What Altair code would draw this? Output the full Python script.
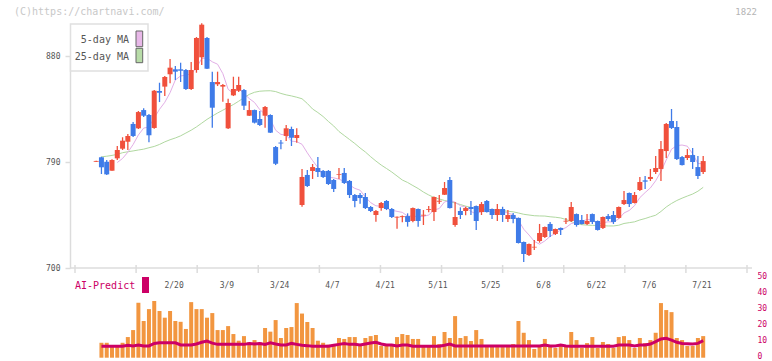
import altair as alt
import numpy as np
import pandas as pd

# Daily candles (open / high / low / close), one entry per trading day
opens = [790.2, 794.0, 790.2, 782.6, 793.1, 801.3, 807.2, 822.3, 818.6, 834.1,
         829.9, 818.9, 850.3, 854.0, 864.5, 868.7, 868.7, 868.1, 852.0, 868.1,
         878.9, 895.3, 857.9, 856.0, 854.0, 818.6, 846.6, 850.5, 851.1, 829.3,
         834.1, 826.5, 829.3, 829.9, 802.7, 806.5, 812.1, 818.0, 810.4, 753.5,
         779.0, 782.4, 784.9, 782.4, 782.4, 774.7, 779.2, 780.7, 773.9, 762.0,
         762.0, 760.3, 751.8, 745.0, 750.9, 756.9, 750.1, 742.8, 743.2, 744.1,
         739.9, 750.1, 744.5, 749.3, 747.5, 756.3, 762.2, 774.7, 736.5, 748.4,
         748.4, 751.8, 752.6, 747.5, 756.9, 750.1, 745.0, 750.1, 741.6, 745.0,
         742.5, 722.1, 711.0, 717.4, 722.9, 726.3, 737.4, 728.9, 734.0, 739.4,
         739.9, 745.8, 740.8, 737.4, 745.8, 739.9, 734.0, 744.1, 745.0, 742.5,
         754.3, 763.7, 755.2, 766.2, 774.4, 775.6, 781.5, 784.1, 799.3, 824.8,
         819.7, 794.2, 793.4, 795.9, 785.7, 781.5]
highs = [791.0, 794.5, 791.7, 792.3, 803.6, 811.0, 813.8, 824.0, 833.3, 835.6,
         830.7, 851.1, 857.3, 863.0, 877.4, 871.5, 874.3, 869.0, 874.9, 896.1,
         907.8, 896.1, 866.7, 866.7, 856.2, 843.7, 862.4, 862.4, 852.0, 841.8,
         834.5, 833.3, 837.5, 830.5, 803.6, 808.7, 821.4, 820.0, 818.6, 784.1,
         783.2, 788.3, 794.2, 783.2, 783.2, 775.6, 784.9, 784.9, 774.7, 762.8,
         763.7, 763.7, 752.6, 749.2, 756.0, 757.7, 750.9, 743.7, 744.6, 746.4,
         751.4, 750.5, 749.2, 752.6, 760.7, 762.0, 773.0, 777.3, 756.0, 751.5,
         752.0, 756.9, 753.1, 756.0, 757.7, 750.5, 754.3, 752.0, 749.2, 746.7,
         742.9, 722.5, 720.8, 723.8, 737.4, 735.2, 739.1, 733.5, 734.4, 742.5,
         756.0, 746.3, 745.0, 745.8, 746.3, 740.3, 743.7, 745.8, 748.4, 752.2,
         765.4, 764.1, 764.5, 777.3, 778.1, 784.1, 795.1, 807.8, 823.1, 835.0,
         824.8, 795.1, 801.0, 801.9, 795.1, 795.1]
lows = [790.0, 779.8, 779.0, 782.6, 791.7, 800.2, 800.2, 811.2, 818.0, 828.2,
        806.7, 818.3, 840.9, 846.0, 856.8, 859.6, 857.9, 851.1, 851.1, 865.8,
        872.3, 869.0, 819.1, 854.5, 841.2, 818.0, 846.0, 849.4, 834.1, 829.0,
        822.7, 820.6, 819.1, 814.6, 787.4, 800.8, 807.8, 803.6, 806.4, 752.0,
        768.8, 775.6, 777.3, 776.4, 770.5, 764.5, 775.6, 771.3, 759.4, 751.5,
        754.6, 750.1, 747.5, 739.3, 748.6, 749.2, 742.5, 733.3, 738.8, 735.1,
        738.8, 735.1, 736.5, 747.3, 739.9, 754.3, 762.0, 750.5, 735.1, 741.6,
        744.7, 745.0, 732.3, 745.0, 747.1, 741.6, 739.9, 739.1, 739.1, 738.0,
        720.8, 705.1, 710.2, 715.3, 721.5, 725.5, 726.3, 728.0, 728.0, 737.4,
        739.1, 735.1, 736.9, 736.5, 737.4, 731.8, 733.1, 739.9, 737.4, 742.0,
        753.5, 751.8, 754.8, 765.4, 767.1, 773.9, 779.8, 773.9, 793.4, 818.0,
        791.7, 787.0, 791.7, 784.1, 775.6, 779.8]
closes = [790.9, 785.5, 779.5, 791.7, 800.2, 808.1, 812.1, 812.1, 832.4, 829.3,
          812.7, 850.5, 848.8, 862.2, 870.1, 866.7, 867.5, 852.0, 868.1, 895.3,
          906.6, 869.2, 836.1, 857.9, 855.4, 840.1, 852.0, 855.4, 837.8, 834.1,
          823.4, 821.4, 836.7, 814.9, 788.5, 805.7, 818.6, 810.6, 812.9, 777.3,
          769.6, 785.7, 781.5, 777.3, 771.3, 767.1, 779.8, 772.2, 762.0, 756.9,
          759.4, 750.9, 748.4, 748.4, 755.2, 750.1, 743.3, 743.5, 744.0, 739.1,
          750.9, 739.9, 745.2, 750.0, 760.3, 757.1, 767.9, 750.9, 743.3, 745.0,
          750.9, 750.1, 739.9, 754.3, 747.5, 745.0, 750.1, 745.0, 745.0, 741.6,
          721.2, 711.9, 720.4, 718.0, 729.7, 734.8, 731.4, 733.1, 732.3, 740.1,
          751.8, 736.5, 737.4, 739.9, 739.1, 732.3, 743.3, 741.6, 739.1, 751.8,
          757.7, 754.3, 762.0, 773.0, 773.3, 777.3, 784.9, 801.0, 822.3, 818.9,
          792.5, 787.4, 795.9, 790.0, 778.1, 790.8]

# 25-day moving average (longer history than the visible window)
ma25 = [None, 794.4, 794.9, 795.6, 796.5, 797.9, 798.7, 799.4, 800.2, 800.9,
        802.1, 803.2, 804.9, 807.1, 808.9, 810.4, 812.2, 814.6, 817.0, 819.8,
        823.0, 826.2, 829.0, 831.6, 834.0, 836.4, 838.8, 841.6, 844.6, 847.4,
        849.2, 850.1, 850.4, 850.5, 849.8, 848.2, 847.0, 846.1, 845.0, 843.7,
        839.7, 835.0, 832.0, 828.6, 824.4, 820.6, 815.9, 812.5, 809.1, 805.7,
        801.9, 798.5, 794.5, 790.8, 787.4, 784.5, 781.5, 778.1, 774.7, 772.6,
        770.0, 767.5, 764.5, 762.0, 759.9, 758.6, 757.3, 756.3, 755.2, 753.9,
        752.5, 751.4, 750.5, 750.1, 749.8, 749.4, 749.1, 748.7, 748.2, 747.7,
        746.7, 745.6, 745.0, 744.4, 744.2, 744.1, 743.5, 743.1, 742.5, 741.2,
        739.5, 737.6, 736.8, 736.4, 736.2, 736.1, 735.9, 735.7, 735.7, 736.3,
        737.8, 738.5, 739.2, 740.8, 742.0, 743.5, 744.8, 748.0, 751.8, 754.8,
        757.3, 759.3, 761.1, 762.8, 765.2, 768.5]

# Lower panel: traded volume bars and the AI-Predict line
volume = [None, 9.4, 9.4, 7.2, 7.2, 9.4, 13.0, 17.4, 34.6, 23.1,
          30.6, 35.7, 29.4, 25.2, 29.4, 23.1, 22.6, 18.1, 35.0, 30.6,
          30.6, 25.2, 28.1, 17.4, 17.4, 19.9, 14.9, 10.7, 13.6, 9.7,
          11.1, 9.7, 18.7, 16.4, 23.7, 12.4, 18.7, 19.3, 34.4, 27.8,
          22.5, 18.7, 10.7, 9.4, 8.2, 8.6, 12.4, 11.8, 13.0, 13.0,
          8.0, 12.4, 13.6, 14.3, 7.4, 8.0, 8.0, 13.0, 14.9, 14.3,
          11.8, 11.8, 7.4, 7.4, 13.6, 8.6, 16.2, 12.4, 26.2, 12.4,
          13.6, 10.5, 17.4, 11.8, 7.4, 7.4, 6.7, 6.7, 7.4, 8.6,
          23.1, 15.7, 11.1, 5.5, 7.4, 11.8, 7.4, 6.1, 8.0, 7.4,
          16.2, 11.1, 6.1, 9.2, 13.0, 6.1, 9.9, 8.6, 6.1, 13.0,
          13.6, 11.1, 6.1, 12.4, 9.2, 11.1, 15.7, 34.4, 30.0, 28.7,
          12.4, 11.1, 7.4, 7.4, 12.4, 13.6]
ai_predict = [None, 7.2, 7.2, 7.2, 7.2, 7.2, 7.8, 7.4, 8.0, 7.4,
              7.4, 9.0, 9.4, 9.4, 9.4, 9.4, 8.0, 8.0, 8.0, 8.6,
              9.7, 10.5, 9.2, 8.4, 8.4, 8.4, 8.4, 8.4, 8.4, 9.0,
              8.6, 9.0, 8.4, 9.4, 8.6, 8.0, 8.0, 9.0, 8.4, 7.8,
              7.6, 7.2, 7.2, 7.2, 7.2, 7.8, 8.4, 9.0, 8.4, 8.4,
              8.0, 8.6, 9.2, 9.7, 8.6, 8.0, 8.0, 7.4, 8.0, 8.0,
              7.2, 7.2, 7.2, 7.2, 7.2, 7.2, 7.8, 8.6, 7.4, 7.4,
              7.4, 7.4, 7.4, 7.4, 7.4, 7.4, 7.4, 7.4, 7.4, 7.4,
              7.4, 7.4, 7.4, 7.4, 7.4, 8.0, 7.4, 7.4, 8.0, 7.4,
              7.2, 7.2, 7.2, 7.2, 7.2, 7.2, 7.2, 7.2, 7.2, 8.0,
              8.0, 8.0, 7.4, 8.0, 8.0, 8.6, 10.1, 11.8, 12.2, 11.1,
              9.7, 9.0, 8.8, 8.6, 9.0, 10.7]

# Date labels and the trading day they sit on
date_labels = ["2/20", "3/9", "3/24", "4/7", "4/21", "5/11", "5/25", "6/8", "6/22", "7/6", "7/21"]
date_label_days = [14, 24, 34, 44, 54, 64, 74, 84, 94, 104, 114]
price_ticks = [700, 790, 880]
volume_ticks = [0, 10, 20, 30, 40, 50]

MONO = "DejaVu Sans Mono"
UP_RED = "#f0503c"
DOWN_BLUE = "#3f7be8"
MA5_PINK = "#e2aee6"
MA25_GREEN = "#b0d8a0"
VOL_ORANGE = "#f29640"
AI_CRIMSON = "#cc0066"
FRAME_GRAY = "#dcdcdc"
TEXT_GRAY = "#555555"

n = len(closes)
days = np.arange(n)
prices = pd.DataFrame({"day": days, "open": opens, "high": highs, "low": lows,
                       "close": closes, "ma25": ma25})
volumes = pd.DataFrame({"day": days, "volume": volume, "ai": ai_predict})
labels_df = pd.DataFrame({"day": date_label_days, "label": date_labels})
one_row = pd.DataFrame({"k": [0]})

W, H = 682, 350
x_domain = [-4.01, 123.3]
x_scale = alt.Scale(domain=x_domain, nice=False, zero=False)
grid_df = pd.DataFrame({"day": np.linspace(x_domain[0], x_domain[1], 12)})

# Both panels share one plot area; each y scale occupies its own band
price_scale = alt.Scale(domain=[700, 880], range=[260, 48], zero=False, nice=False)
vol_scale = alt.Scale(domain=[0, 50], range=[349.7, 270.3], nice=False)

price_axis = alt.Axis(orient="left", values=price_ticks, title=None, grid=False,
                      tickSize=5, tickColor=FRAME_GRAY, tickWidth=1.5,
                      domainColor=FRAME_GRAY, domainWidth=1.5,
                      labelColor=TEXT_GRAY, labelFont=MONO, labelFontSize=8,
                      labelPadding=5)
vol_axis = alt.Axis(orient="right", values=volume_ticks, title=None, grid=False,
                    ticks=False, domain=False, labelColor=AI_CRIMSON,
                    labelFont=MONO, labelFontSize=8, labelPadding=5,
                    labelOffset=-1.5)


def X(field="day"):
    return alt.X(f"{field}:Q", scale=x_scale, axis=None)


def PY(field):
    return alt.Y(f"{field}:Q", scale=price_scale, axis=price_axis)


def VY(field):
    return alt.Y(f"{field}:Q", scale=vol_scale, axis=vol_axis)


candle_color = alt.condition("datum.close >= datum.open",
                             alt.value(UP_RED), alt.value(DOWN_BLUE))

base = alt.Chart(prices)
ma25_line = base.mark_line(color=MA25_GREEN, strokeWidth=1).encode(x=X(), y=PY("ma25"))
ma5_line = (
    base.transform_window(ma5="mean(close)", cnt="count()", frame=[-4, 0],
                          sort=[alt.SortField("day")])
    .transform_filter("datum.cnt == 5")
    .mark_line(color=MA5_PINK, strokeWidth=1)
    .encode(x=X(), y=PY("ma5"))
)
wicks = base.mark_rule(strokeWidth=1.3).encode(x=X(), y=PY("low"), y2="high", color=candle_color)
bodies = base.mark_bar(size=5).encode(x=X(), y=PY("open"), y2="close", color=candle_color)

separator = alt.Chart(one_row).mark_rule(color=FRAME_GRAY, strokeWidth=1.5).encode(
    x=alt.value(0), x2=alt.value(W), y=alt.value(260))
grid_ticks = alt.Chart(grid_df).mark_rule(color=FRAME_GRAY, strokeWidth=1.5).encode(
    x=X(), y=alt.value(257), y2=alt.value(265))
date_text = alt.Chart(labels_df).mark_text(
    font=MONO, fontSize=8, color=TEXT_GRAY, dx=4, baseline="middle").encode(
    x=X(), y=alt.value(278), text="label:N")

legend_box = alt.Chart(one_row).mark_rect(fill="white", stroke="#e0e0e0", strokeWidth=1.5).encode(
    x=alt.value(0.5), x2=alt.value(78), y=alt.value(16), y2=alt.value(63))
legend_ma5 = alt.Chart(one_row).mark_text(
    text="5-day MA", align="right", baseline="middle", font=MONO, fontSize=10,
    color=TEXT_GRAY).encode(x=alt.value(59), y=alt.value(32))
legend_ma25 = alt.Chart(one_row).mark_text(
    text="25-day MA", align="right", baseline="middle", font=MONO, fontSize=10,
    color=TEXT_GRAY).encode(x=alt.value(59), y=alt.value(49))
swatch_ma5 = alt.Chart(one_row).mark_rect(fill="#e8b8e8", stroke="#666666", strokeWidth=1).encode(
    x=alt.value(66), x2=alt.value(72.7), y=alt.value(23), y2=alt.value(38.7))
swatch_ma25 = alt.Chart(one_row).mark_rect(fill="#b8dca8", stroke="#666666", strokeWidth=1).encode(
    x=alt.value(66), x2=alt.value(72.7), y=alt.value(40.3), y2=alt.value(54.7))

copyright_text = alt.Chart(one_row).mark_text(
    text="(C)https://chartnavi.com/", align="left", baseline="middle", font=MONO,
    fontSize=10, color="#c8c8c8").encode(x=alt.value(-56), y=alt.value(4))
code_text = alt.Chart(one_row).mark_text(
    text="1822", align="right", baseline="middle", font=MONO, fontSize=9,
    color="#b4b4b4").encode(x=alt.value(687), y=alt.value(4))

price_panel = alt.layer(ma25_line, ma5_line, wicks, bodies, separator, grid_ticks,
                        date_text, legend_box, legend_ma5, legend_ma25,
                        swatch_ma5, swatch_ma25, copyright_text, code_text)

vol_bars = alt.Chart(volumes).mark_bar(size=4, color=VOL_ORANGE).encode(
    x=X(), y=VY("volume"), y2=alt.datum(0))
ai_line = alt.Chart(volumes).mark_line(color=AI_CRIMSON, strokeWidth=3).encode(
    x=X(), y=VY("ai"))
ai_label = alt.Chart(one_row).mark_text(
    text="AI-Predict", align="left", baseline="middle", font=MONO, fontSize=10,
    color=AI_CRIMSON).encode(x=alt.value(5), y=alt.value(278))
ai_swatch = alt.Chart(one_row).mark_rect(fill=AI_CRIMSON).encode(
    x=alt.value(72), x2=alt.value(79), y=alt.value(269), y2=alt.value(285))

volume_panel = alt.layer(vol_bars, ai_line, ai_label, ai_swatch)

chart = (
    alt.layer(price_panel, volume_panel)
    .resolve_scale(y="independent")
    .properties(width=W, height=H,
                padding={"left": 70, "top": 8, "right": 20, "bottom": 3},
                autosize=alt.AutoSizeParams(type="none"))
    .configure_view(stroke=None)
)

chart.save("out.html", embed_options={"renderer": "svg", "actions": False})
